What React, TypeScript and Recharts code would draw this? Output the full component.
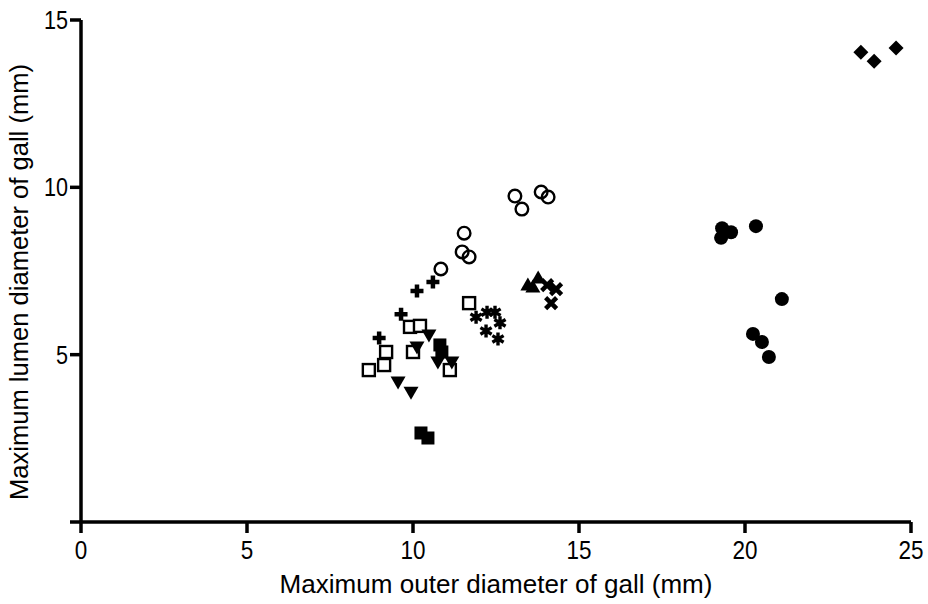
import React from 'react';
import { ScatterChart, Scatter, XAxis, YAxis } from 'recharts';

// [outer diameter, lumen diameter] in mm, one array per species/group
const diamonds = [[23.49, 14.04], [23.89, 13.77], [24.55, 14.16]];
const filledCircles = [
  [19.31, 8.78], [19.58, 8.66], [19.28, 8.49], [20.33, 8.84],
  [21.11, 6.66], [20.24, 5.62], [20.51, 5.38], [20.72, 4.93],
];
const openCircles = [
  [13.07, 9.74], [13.28, 9.35], [13.86, 9.86], [14.07, 9.71],
  [11.54, 8.63], [11.48, 8.07], [11.69, 7.92], [10.84, 7.56],
];
const pluses = [[10.6, 7.17], [10.12, 6.9], [9.64, 6.21], [8.98, 5.5]];
const openSquares = [
  [11.69, 6.54], [9.91, 5.83], [10.21, 5.86], [9.19, 5.08],
  [10.0, 5.08], [9.13, 4.69], [8.67, 4.54], [11.11, 4.54],
];
const downTriangles = [
  [10.48, 5.59], [10.12, 5.23], [10.75, 4.78], [11.17, 4.78], [9.55, 4.18], [9.94, 3.88],
];
const filledSquares = [[10.81, 5.29], [10.87, 5.08], [10.24, 2.66], [10.45, 2.51]];
const asterisks = [
  [11.9, 6.12], [12.23, 6.27], [12.47, 6.27], [12.62, 5.95], [12.2, 5.71], [12.56, 5.47],
];
const upTriangles = [[13.46, 7.08], [13.77, 7.29], [13.61, 7.02]];
const crosses = [[14.04, 7.08], [14.31, 6.96], [14.16, 6.54]];

const xTicks = [0, 5, 10, 15, 20, 25];
const yTicks = [0, 5, 10, 15];

const xTitle = 'Maximum outer diameter of gall (mm)';
const yTitle = 'Maximum lumen diameter of gall (mm)';

const toPts = (arr: number[][]) => arr.map(([x, y]) => ({ x, y }));

type ShapeProps = { cx?: number; cy?: number };

const shapes: Record<string, (p: ShapeProps) => React.ReactElement> = {
  diamond: ({ cx = 0, cy = 0 }) => (
    <polygon points={`${cx},${cy - 7.5} ${cx + 7.5},${cy} ${cx},${cy + 7.5} ${cx - 7.5},${cy}`} fill="#000" />
  ),
  filledCircle: ({ cx = 0, cy = 0 }) => <circle cx={cx} cy={cy} r={7} fill="#000" />,
  openCircle: ({ cx = 0, cy = 0 }) => (
    <circle cx={cx} cy={cy} r={6.3} fill="none" stroke="#000" strokeWidth={2.4} />
  ),
  plus: ({ cx = 0, cy = 0 }) => (
    <path d={`M${cx - 6.5},${cy}H${cx + 6.5}M${cx},${cy - 6.5}V${cy + 6.5}`} stroke="#000" strokeWidth={4.5} />
  ),
  openSquare: ({ cx = 0, cy = 0 }) => (
    <rect x={cx - 6} y={cy - 6} width={12} height={12} fill="#fff" stroke="#000" strokeWidth={2.4} />
  ),
  downTriangle: ({ cx = 0, cy = 0 }) => (
    <polygon points={`${cx - 7.5},${cy - 5.5} ${cx + 7.5},${cy - 5.5} ${cx},${cy + 7.5}`} fill="#000" />
  ),
  filledSquare: ({ cx = 0, cy = 0 }) => (
    <rect x={cx - 6.5} y={cy - 6.5} width={13} height={13} fill="#000" />
  ),
  asterisk: ({ cx = 0, cy = 0 }) => (
    <path
      d={`M${cx},${cy - 6.5}V${cy + 6.5}M${cx - 5.6},${cy - 3.3}L${cx + 5.6},${cy + 3.3}M${cx - 5.6},${cy + 3.3}L${cx + 5.6},${cy - 3.3}`}
      stroke="#000"
      strokeWidth={3.4}
    />
  ),
  upTriangle: ({ cx = 0, cy = 0 }) => (
    <polygon points={`${cx - 7.5},${cy + 5.5} ${cx + 7.5},${cy + 5.5} ${cx},${cy - 7.5}`} fill="#000" />
  ),
  cross: ({ cx = 0, cy = 0 }) => (
    <path d={`M${cx - 5.5},${cy - 5.5}L${cx + 5.5},${cy + 5.5}M${cx - 5.5},${cy + 5.5}L${cx + 5.5},${cy - 5.5}`} stroke="#000" strokeWidth={4.5} />
  ),
};

const series: [string, number[][]][] = [
  ['diamond', diamonds],
  ['filledCircle', filledCircles],
  ['openCircle', openCircles],
  ['plus', pluses],
  ['openSquare', openSquares],
  ['downTriangle', downTriangles],
  ['filledSquare', filledSquares],
  ['asterisk', asterisks],
  ['upTriangle', upTriangles],
  ['cross', crosses],
];

const font = '"Liberation Sans", Arial, Helvetica, sans-serif';
const axisStroke = { stroke: '#000', strokeWidth: 3.5 };

// the original uses a tall, slightly narrow sans; squeeze glyphs to match widths
const XTick = (props: any) => {
  const { x, payload } = props;
  const s = String(payload.value);
  return (
    <text x={x} y={559} textAnchor="middle" fontSize={26} fontFamily={font} fill="#000"
      textLength={s.length * 12.5} lengthAdjust="spacingAndGlyphs">
      {s}
    </text>
  );
};

const YTick = (props: any) => {
  const { y, payload } = props;
  if (payload.value === 0) return null;
  const s = String(payload.value);
  return (
    <text x={68} y={y + 9} textAnchor="end" fontSize={26} fontFamily={font} fill="#000"
      textLength={s.length * 12} lengthAdjust="spacingAndGlyphs">
      {s}
    </text>
  );
};

const XTitle = () => (
  <text x={496} y={593} textAnchor="middle" fontSize={25} fontFamily={font} fill="#000"
    textLength={433} lengthAdjust="spacingAndGlyphs">
    {xTitle}
  </text>
);

const YTitle = () => (
  <text x={0} y={0} transform="translate(28,282) rotate(-90)" textAnchor="middle" fontSize={25}
    fontFamily={font} fill="#000" textLength={436} lengthAdjust="spacingAndGlyphs">
    {yTitle}
  </text>
);

export default function App() {
  return (
    <div style={{ position: 'absolute', left: 0, top: 0, width: 928, height: 604, background: '#fff' }}>
      <ScatterChart width={928} height={604} margin={{ top: 20, right: 17, bottom: 42, left: 21 }}>
        <XAxis
          type="number"
          dataKey="x"
          domain={[0, 25]}
          ticks={xTicks}
          interval={0}
          height={40}
          axisLine={axisStroke}
          tickLine={axisStroke}
          tickSize={11}
          tick={XTick}
          label={{ content: XTitle }}
        />
        <YAxis
          type="number"
          dataKey="y"
          domain={[0, 15]}
          ticks={yTicks}
          interval={0}
          width={60}
          axisLine={axisStroke}
          tickLine={axisStroke}
          tickSize={11}
          tick={YTick}
          label={{ content: YTitle }}
        />
        {series.map(([name, pts]) => (
          <Scatter key={name} data={toPts(pts)} shape={shapes[name]} isAnimationActive={false} />
        ))}
      </ScatterChart>
    </div>
  );
}
